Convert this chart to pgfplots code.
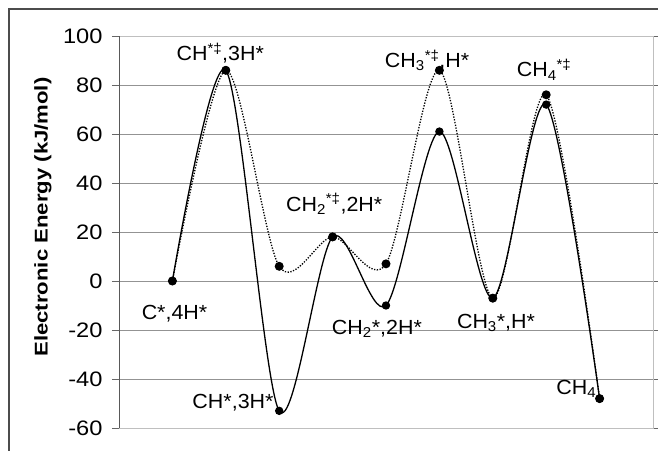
\documentclass[border=0pt]{standalone}
\usepackage{pgfplots}
\pgfplotsset{compat=1.18}
\usepackage{fontspec}
\setmainfont[FakeStretch=1.05]{Liberation Sans}
\newfontfamily\tickfont[FakeStretch=1.13]{Liberation Sans}
\newfontfamily\labfont[FakeStretch=1.2]{Liberation Sans}
\newcommand{\lab}{\fontsize{20.5}{20.5}\selectfont}
\begin{document}
\begin{tikzpicture}
\path[use as bounding box] (0bp,0bp) rectangle (658bp,451bp);
\draw[gray!60!black, line width=1.2bp] (9bp,0bp) -- (9bp,442bp) -- (658bp,442bp);
\node[rotate=90, font=\fontsize{18.5}{18.5}\labfont\bfseries] at (43bp,234bp) {Electronic Energy (kJ/mol)};
\begin{axis}[
  at={(119bp,23bp)}, anchor=south west,
  scale only axis, width=534bp, height=392bp,
  xmin=-1, xmax=9, ymin=-60, ymax=100,
  xtick=\empty,
  ytick={-60,-40,...,100},
  ymajorgrids, grid style={gray!85, line width=0.8bp},
  axis line style={gray!50, line width=0.8bp},
  tick align=outside, major tick length=7bp,
  ytick style={gray!80!black, line width=0.8bp},
  yticklabel style={font=\fontsize{21}{21}\tickfont, xshift=-6bp},
  /pgf/number format/assume math mode=true,
  clip=false,
]
\draw[gray!70!black, line width=0.9bp] (rel axis cs:0,0) -- (rel axis cs:0,1);
\addplot[black, line width=1.3bp, dash pattern=on 1.3bp off 1.5bp, smooth, tension=0.5, mark=*, mark size=3.8bp, mark options={solid}]
  coordinates {(0,0) (1,86) (2,6) (3,18) (4,7) (5,86) (6,-7) (7,76) (8,-48)};
\addplot[black, line width=1.3bp, smooth, tension=0.5, mark=*, mark size=3.5bp]
  coordinates {(0,0) (1,86) (2,-53) (3,18) (4,-10) (5,61) (6,-7) (7,72) (8,-48)};
\node[anchor=base, font=\lab] at (axis cs:0.896,89.8) {CH\textsuperscript{*‡},3H*};
\node[anchor=base, font=\lab] at (axis cs:0.04,-15.6) {C*,4H*};
\node[anchor=base, font=\lab] at (axis cs:1.135,-52.1) {CH*,3H*};
\node[anchor=base, font=\lab] at (axis cs:3.03,28.5) {CH\textsubscript{2}\textsuperscript{*‡},2H*};
\node[anchor=base, font=\lab] at (axis cs:3.83,-21.8) {CH\textsubscript{2}*,2H*};
\node[anchor=base, font=\lab] at (axis cs:4.77,87.1) {CH\textsubscript{3}\textsuperscript{*‡},H*};
\node[anchor=base, font=\lab] at (axis cs:6.96,83.3) {CH\textsubscript{4}\textsuperscript{*‡}};
\node[anchor=base, font=\lab] at (axis cs:6.06,-19.3) {CH\textsubscript{3}*,H*};
\node[anchor=base, font=\lab] at (axis cs:7.565,-46.3) {CH\textsubscript{4}};
\end{axis}
\end{tikzpicture}
\end{document}
